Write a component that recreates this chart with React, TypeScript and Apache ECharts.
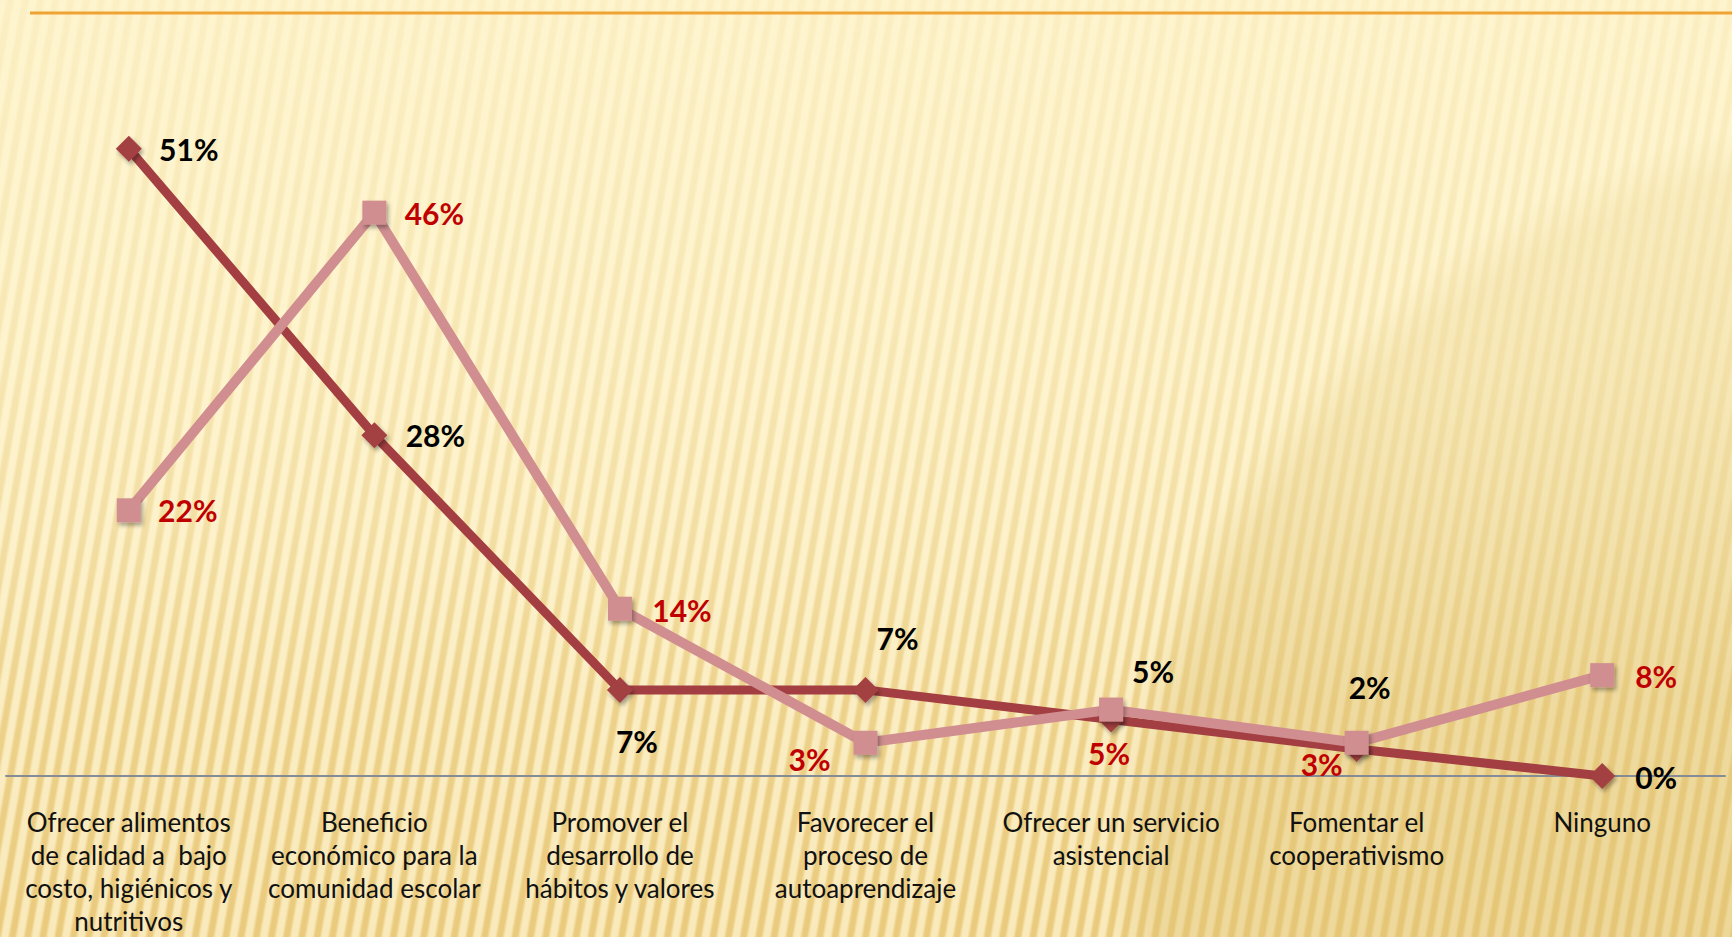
import React, { useEffect, useRef } from "react";
import * as echarts from "echarts";

const categories = [
  "Ofrecer alimentos\nde calidad a  bajo\ncosto, higiénicos y\nnutritivos",
  "Beneficio\neconómico para la\ncomunidad escolar",
  "Promover el\ndesarrollo de\nhábitos y valores",
  "Favorecer el\nproceso de\nautoaprendizaje",
  "Ofrecer un servicio\nasistencial",
  "Fomentar el\ncooperativismo",
  "Ninguno",
];

// series A (dark red, diamonds, black labels)
const seriesA = [51, 27.7, 7, 7, 4.6, 2.2, 0];
// series B (pink, squares, red labels)
const seriesB = [21.6, 45.8, 13.6, 2.7, 5.4, 2.7, 8.2];

// label offsets (px) relative to each point
const offsetsA = [[60, 0], [61, 0], [17, 51], [32, -52], [42, -48], [13, -62], [54, 1]];
const offsetsB = [[59, 0], [60, 0], [62, 1], [-56, 16], [-2, 43], [-35, 21], [54, 1]];

const FONT = "Lato, 'Open Sans', sans-serif";

export default function App() {
  const ref = useRef<HTMLDivElement>(null);
  useEffect(() => {
    if (!ref.current) return;
    const chart = echarts.init(ref.current, undefined, { renderer: "svg" });
    const labelBase = {
      show: true,
      position: "inside",
      align: "center",
      verticalAlign: "middle",
      fontFamily: FONT,
      fontWeight: "bold",
      fontSize: 30,
      formatter: (p: any) => Math.round(p.value) + "%",
    };
    const shadow = {
      shadowBlur: 4,
      shadowColor: "rgba(0,0,0,0.35)",
      shadowOffsetX: 2,
      shadowOffsetY: 3,
    };
    chart.setOption({
      animation: false,
      backgroundColor: "transparent",
      graphic: [
        {
          type: "line",
          shape: { x1: 30, y1: 13, x2: 1732, y2: 13 },
          style: { stroke: "#F0A333", lineWidth: 3 },
        },
      ],
      grid: { left: 6, right: 7, top: 38, bottom: 158, containLabel: false },
      xAxis: {
        type: "category",
        data: categories,
        boundaryGap: true,
        axisLine: { show: true, lineStyle: { color: "#868C97", width: 2 } },
        axisTick: { show: false },
        axisLabel: {
          interval: 0,
          margin: 29,
          fontFamily: FONT,
          fontSize: 26,
          lineHeight: 33,
          color: "#111",
        },
        z: 1,
      },
      yAxis: {
        type: "value",
        min: 0,
        max: 60,
        show: false,
        splitLine: { show: false },
      },
      series: [
        {
          type: "line",
          data: seriesA.map((v, i) => ({
            value: v,
            label: { offset: offsetsA[i] },
          })),
          symbol: "diamond",
          symbolSize: 26,
          lineStyle: { color: "#A33F42", width: 9 },
          itemStyle: { color: "#A33F42", ...shadow },
          label: { ...labelBase, color: "#000" },
          z: 3,
        },
        {
          type: "line",
          data: seriesB.map((v, i) => ({
            value: v,
            label: { offset: offsetsB[i] },
          })),
          symbol: "rect",
          symbolSize: 24,
          lineStyle: { color: "#D08E90", width: 10 },
          itemStyle: { color: "#D08E90", ...shadow },
          label: { ...labelBase, color: "#C00000" },
          z: 4,
        },
      ],
    });
    return () => chart.dispose();
  }, []);

  const bg = [
    "linear-gradient(180deg, rgba(254,244,204,0.75) 0%, rgba(254,244,204,0.45) 40%, rgba(254,244,204,0) 75%)",
    "radial-gradient(circle at 1900px 900px, rgba(222,192,110,0.45) 0px, rgba(222,192,110,0.40) 740px, rgba(222,192,110,0) 790px)",
    "repeating-linear-gradient(100deg, rgba(255,250,225,0.55) 0px, rgba(255,250,225,0.55) 5px, rgba(205,165,70,0.22) 8px, rgba(205,165,70,0.22) 12px, rgba(255,250,225,0.55) 15px)",
    "linear-gradient(180deg, #FCEFC2 0%, #F9E6AE 55%, #F2D58C 100%)",
  ].join(",");

  return (
    <div
      style={{
        position: "fixed",
        left: 0,
        top: 0,
        width: 1732,
        height: 937,
        background: bg,
      }}
    >
      <div ref={ref} style={{ width: 1732, height: 937 }} />
    </div>
  );
}
